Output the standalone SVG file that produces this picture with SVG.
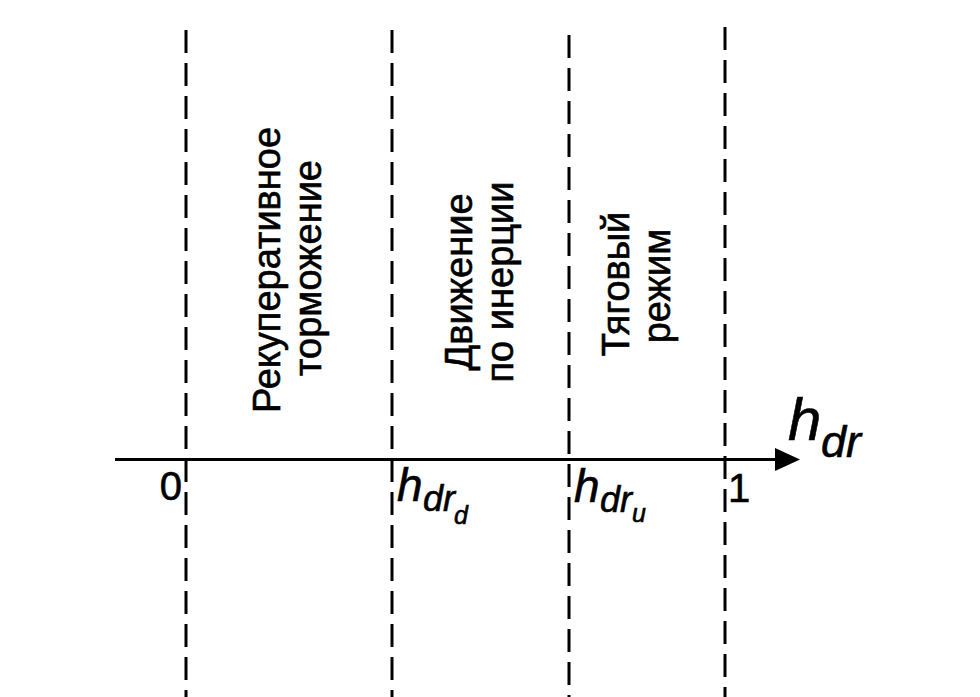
<svg xmlns="http://www.w3.org/2000/svg" width="980" height="697" viewBox="0 0 980 697">
<defs>
<style>
.dash{stroke:#000;stroke-width:3;stroke-dasharray:23 10;fill:none}
.axis{stroke:#000;stroke-width:3;fill:none}
text{font-family:"Liberation Sans",Arial,sans-serif;fill:#000;stroke:#000;stroke-width:0.6}
.lbl{font-size:38px}
.num{font-size:40px}
.it{font-style:italic}
</style>
</defs>
<rect width="980" height="697" fill="#fff"/>
<g id="boundaries">
<line class="dash" x1="186" y1="30" x2="186" y2="697"/>
<line class="dash" x1="392" y1="30" x2="392" y2="697"/>
<line class="dash" x1="569" y1="35" x2="569" y2="697"/>
<line class="dash" x1="725" y1="27" x2="725" y2="697"/>
</g>
<g id="connectors">
<line class="axis" x1="115" y1="459.5" x2="778" y2="459.5"/>
<polygon points="775,448 800,459.5 775,471" fill="#000"/>
</g>
<g id="zone-regen">
<text class="lbl" text-anchor="middle" transform="translate(280,270) rotate(-90)">Рекуперативное</text>
<text class="lbl" text-anchor="middle" transform="translate(321,268) rotate(-90)">торможение</text>
</g>
<g id="zone-coast">
<text class="lbl" text-anchor="middle" transform="translate(472,282) rotate(-90)">Движение</text>
<text class="lbl" text-anchor="middle" transform="translate(513,282) rotate(-90)">по инерции</text>
</g>
<g id="zone-traction">
<text class="lbl" text-anchor="middle" transform="translate(629,284) rotate(-90)">Тяговый</text>
<text class="lbl" text-anchor="middle" transform="translate(670,286) rotate(-90)">режим</text>
</g>
<g id="axis-labels">
<text class="num" x="182" y="500" text-anchor="end">0</text>
<text class="num" x="728" y="502">1</text>
<text class="it" x="397" y="501" font-size="46">h</text>
<text class="it" x="423" y="511" font-size="36">dr</text>
<text class="it" x="454" y="524" font-size="25">d</text>
<text class="it" x="574" y="502" font-size="46">h</text>
<text class="it" x="600" y="512" font-size="36">dr</text>
<text class="it" x="632" y="522" font-size="25">u</text>
<text class="it" x="788" y="440" font-size="60">h</text>
<text class="it" x="821" y="457" font-size="45">dr</text>
</g>
</svg>
